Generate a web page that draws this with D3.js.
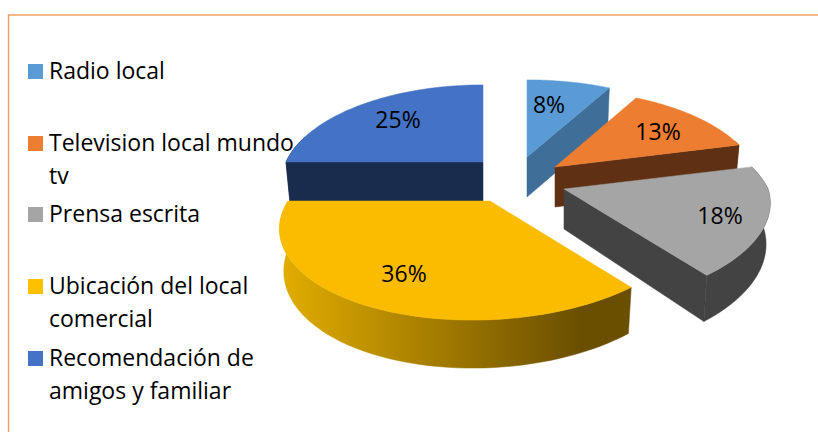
<!DOCTYPE html>
<html>
<head>
<meta charset="utf-8">
<script src="https://cdn.jsdelivr.net/npm/d3@7"></script>
<style>
html,body{margin:0;padding:0;background:#fff;overflow:hidden}
svg{display:block}
text{font-family:"Open Sans",sans-serif;fill:#000}
</style>
</head>
<body>
<svg id="c" width="818" height="432"></svg>
<script>
const categories = ["Radio local", "Television local mundo tv", "Prensa escrita", "Ubicación del local comercial", "Recomendación de amigos y familiar"];
const legendLines = [["Radio local"], ["Television local mundo", "tv"], ["Prensa escrita"], ["Ubicación del local", "comercial"], ["Recomendación de", "amigos y familiar"]];
const values = [8, 13, 18, 36, 25];
const topColors = ["#5b9bd5", "#ed7d31", "#a5a5a5", "#fbbc00", "#4472c4"];
const legendColors = ["#5b9bd5", "#ed7d31", "#a5a5a5", "#ffc000", "#4472c4"];
const sideColors = ["#3f6e98", "#5f3013", "#434343", "url(#yellowSide)", "#1a2c4e"];

// layout of the exploded 3D pie
const apexes = [[527,157],[555,167],[564,189],[490,201],[483,162]];
const radii = [203,200,204,202,197];
const labelPos = [[549,105],[658,132],[720,216],[404,274],[398,120]];
const swatchY = [64,136,207,279,351];
const baselineY = [79,151,222,294,366];
const lineGap = 33;
const Ry = 93.6, persp = 0.214, shear = -0.15;

const svg = d3.select("#c");
const defs = svg.append("defs");
const grad = defs.append("linearGradient").attr("id","yellowSide").attr("gradientUnits","userSpaceOnUse")
  .attr("x1",-205).attr("x2",90).attr("y1",0).attr("y2",0);
grad.append("stop").attr("offset",0).attr("stop-color","#e0ac00");
grad.append("stop").attr("offset",0.5).attr("stop-color","#a57d00");
grad.append("stop").attr("offset",1).attr("stop-color","#6a4f00");

svg.append("rect").attr("x",8.5).attr("y",15).attr("width",830).attr("height",440)
  .attr("fill","none").attr("stroke","#f3995c").attr("stroke-width",1.4);

const arcs = d3.pie().sort(null).value(d=>d)(values);

function topPt(theta, R){
  const u=Math.sin(theta), v=Math.cos(theta), s=1/(1+persp*v);
  const x=R*u*s, y=-Ry*v*s;
  return [x + shear*Math.max(y,0), y];
}
function botPt(theta, R){
  const p=topPt(theta, R), v=Math.cos(theta);
  return [p[0]*0.98, p[1]+40+8*Math.max(-v,0)];
}
const line=d3.line();
const N=60;
const order=[4,0,1,2,3];
order.forEach(i=>{
  const a=arcs[i], o=apexes[i], R=radii[i], g=svg.append("g").attr("transform",`translate(${o[0]},${o[1]})`);
  const angs=d3.range(N+1).map(k=>a.startAngle+(a.endAngle-a.startAngle)*k/N);
  const apexBottom=[0,40];
  // outer wall
  const vis=angs.filter(t=>Math.cos(t)<0.3);
  if(vis.length>1){
    g.append("path").attr("fill",sideColors[i]).attr("stroke",sideColors[i]).attr("stroke-width",0.5)
      .attr("d",line(vis.map(t=>topPt(t,R)).concat(vis.slice().reverse().map(t=>botPt(t,R))))+"Z");
  }
  // radial walls
  [[a.startAngle,-1],[a.endAngle,1]].forEach(([t,sgn])=>{
    if(sgn*Math.sin(t)>0.01){
      g.append("path").attr("fill",sideColors[i]).attr("stroke",sideColors[i]).attr("stroke-width",0.5)
        .attr("d",line([[0,0],topPt(t,R),botPt(t,R),apexBottom])+"Z");
    }
  });
  // top face
  g.append("path").attr("fill",topColors[i]).attr("stroke",topColors[i]).attr("stroke-width",0.5)
    .attr("d",line([[0,0]].concat(angs.map(t=>topPt(t,R))))+"Z");
});

values.forEach((v,i)=>{
  svg.append("text").attr("x",labelPos[i][0]).attr("y",labelPos[i][1]+8)
    .attr("text-anchor","middle").attr("font-size",23).text(v+"%");
});

categories.forEach((c,i)=>{
  svg.append("rect").attr("x",28).attr("y",swatchY[i]).attr("width",15).attr("height",15).attr("fill",legendColors[i]);
  legendLines[i].forEach((t,j)=>{
    svg.append("text").attr("x",49).attr("y",baselineY[i]+j*lineGap).attr("font-size",23).text(t);
  });
});
</script>
</body>
</html>
